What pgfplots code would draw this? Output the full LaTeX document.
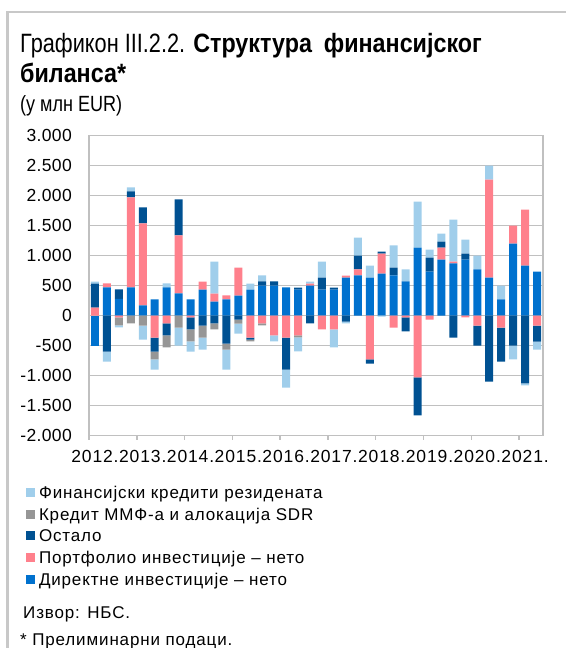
\documentclass[border=0pt]{standalone}
\usepackage{pgfplots}
\pgfplotsset{compat=1.18}
\usepackage{pgfplotstable}
\usepackage{fontspec}
\setmainfont{Liberation Sans}
\newfontfamily\lsleg[LetterSpace=5]{Liberation Sans}
\newfontfamily\lsx[LetterSpace=5]{Liberation Sans}
\newfontfamily\lsy[LetterSpace=2]{Liberation Sans}
\newfontfamily\titlefont[FakeStretch=0.82, BoldFeatures={FakeStretch=0.88}]{Liberation Sans}

\definecolor{cF}{RGB}{160,206,235}
\definecolor{cM}{RGB}{150,150,150}
\definecolor{cO}{RGB}{0,81,146}
\definecolor{cP}{RGB}{255,128,140}
\definecolor{cD}{RGB}{0,113,206}
\definecolor{gridgray}{RGB}{192,192,192}
\definecolor{bordergray}{RGB}{200,200,200}

% positive parts
\pgfplotstableread{
x D P O M F
0 0 133 400 0 33
1 467 67 0 0 0
2 278 0 156 0 0
3 467 1500 100 0 67
4 167 1367 267 0 0
5 267 0 0 0 0
6 467 0 0 0 67
7 367 967 600 0 0
8 267 0 0 0 0
9 433 133 0 0 0
10 233 133 0 0 533
11 267 67 0 0 0
12 333 467 0 0 0
13 433 0 0 0 100
14 500 0 67 0 100
15 500 0 67 0 0
16 467 0 0 0 0
17 433 0 33 0 0
18 500 33 0 0 33
19 433 0 200 0 267
20 433 0 33 0 0
21 633 33 0 0 0
22 667 100 233 0 300
23 633 0 0 0 200
24 700 333 33 0 0
25 667 0 133 0 367
26 567 0 0 0 200
27 1133 0 0 0 767
28 733 0 233 0 133
29 933 200 100 0 133
30 867 33 0 0 700
31 933 0 100 0 233
32 767 0 0 0 233
33 633 1633 0 0 233
34 267 0 0 0 233
35 1200 300 0 0 0
36 833 933 0 0 0
37 733 0 0 0 0
}\pos

% negative parts
\pgfplotstableread{
x D P O M F
0 -500 0 0 0 0
1 0 0 -600 0 -167
2 0 -33 0 -133 -33
3 0 0 0 -133 0
4 0 0 0 -167 -233
5 0 -367 -233 -133 -167
6 0 -133 -200 -200 0
7 0 0 0 -200 -300
8 0 -33 -200 -200 -167
9 0 0 -167 -200 -200
10 0 0 -133 -100 0
11 0 0 -467 -100 -333
12 0 0 -67 -67 -167
13 0 -367 -33 -33 0
14 0 -133 0 -33 0
15 0 -333 0 0 -100
16 0 -367 -533 0 -300
17 0 -333 0 -33 -233
18 0 0 -133 0 0
19 0 -233 0 0 0
20 0 -233 0 0 -300
21 0 0 -100 0 -33
22 0 0 0 0 0
23 0 -733 -67 0 0
24 0 0 0 0 -20
25 0 -200 0 0 0
26 0 -33 -233 0 0
27 0 -1033 -633 0 0
28 0 -67 0 0 0
29 0 0 0 0 0
30 0 0 -367 0 0
31 0 -33 0 0 0
32 0 -167 -333 0 0
33 0 0 -1100 0 0
34 0 -200 -567 0 0
35 0 0 -500 0 -233
36 0 0 -1133 0 -33
37 0 -167 -267 0 -133
}\neg

\pgfplotsset{
  common/.style={
    at={(89pt,-435.5pt)}, anchor=south west,
    scale only axis, width=454pt, height=300pt,
    xmin=-0.5, xmax=37.5, ymin=-2000, ymax=3000,
    ybar stacked, bar width=8pt,
  },
  sqleg/.style={legend image code/.code={\fill[##1] (0pt,-2.5pt) rectangle (9pt,6.5pt);}},
}

\begin{document}
\begin{tikzpicture}
\path[use as bounding box] (0,0) rectangle (565pt,-648pt);
\draw[bordergray, line width=2.5pt] (7.5pt,-650pt) -- (7.5pt,-12pt) -- (567pt,-12pt);

\node[anchor=base west, inner sep=0pt, font=\titlefont\fontsize{26.5}{30}\selectfont] at (20pt,-52.5pt) {Графикон III.2.2. \textbf{Структура\hspace{0.45em}финансијског}};
\node[anchor=base west, inner sep=0pt, font=\titlefont\fontsize{26.5}{30}\selectfont] at (20pt,-82pt) {\textbf{биланса*}};
\node[anchor=base west, inner sep=0pt, font=\titlefont\fontsize{22}{26}\selectfont] at (20pt,-111pt) {(у млн EUR)};

\begin{axis}[common,
  ytick={-2000,-1500,-1000,-500,0,500,1000,1500,2000,2500,3000},
  yticklabels={-2.000,-1.500,-1.000,-500,0,500,1.000,1.500,2.000,2.500,3.000},
  xtick={0,4,8,12,16,20,24,28,32,36},
  xticklabels={2012.,2013.,2014.,2015.,2016.,2017.,2018.,2019.,2020.,2021.},
  minor xtick={-0.5,3.5,7.5,11.5,15.5,19.5,23.5,27.5,31.5,35.5},
  tick align=outside, major tick length=0pt, minor tick length=4pt,
  xtick pos=bottom, ytick pos=left,
  x tick style={gridgray, line width=1.5pt},
  y tick style={draw=none},
  ymajorgrids, grid style={gridgray, line width=1.5pt},
  axis line style={gridgray, line width=1.5pt},
  yticklabel style={font=\lsy\fontsize{17.5}{20}\selectfont, inner sep=0pt, anchor=east, xshift=-17pt},
  xticklabel style={font=\lsx\fontsize{17.5}{20}\selectfont, inner sep=0pt, anchor=north, yshift=-14.5pt},
  legend style={at={(axis description cs:-0.13877,-0.16933)}, anchor=north west,
    draw=none, fill=none, inner sep=0pt, outer sep=0pt, row sep=5.7pt, column sep=4pt,
    font=\lsleg\fontsize{17}{20}\selectfont,
    nodes={inner sep=0pt, text height=12pt, text depth=4pt}},
  legend cell align=left,
  reverse legend,
]
\addplot[fill=cD, draw=none, sqleg] table[x=x,y=D]{\pos};
\addplot[fill=cP, draw=none, sqleg] table[x=x,y=P]{\pos};
\addplot[fill=cO, draw=none, sqleg] table[x=x,y=O]{\pos};
\addplot[fill=cM, draw=none, sqleg] table[x=x,y=M]{\pos};
\addplot[fill=cF, draw=none, sqleg] table[x=x,y=F]{\pos};
\legend{Директне инвестиције – нето, Портфолио инвестиције – нето, Остало, Кредит ММФ-а и алокација SDR, Финансијски кредити резидената}
\end{axis}

\begin{axis}[common, hide axis]
\addplot[fill=cD, draw=none] table[x=x,y=D]{\neg};
\addplot[fill=cP, draw=none] table[x=x,y=P]{\neg};
\addplot[fill=cO, draw=none] table[x=x,y=O]{\neg};
\addplot[fill=cM, draw=none] table[x=x,y=M]{\neg};
\addplot[fill=cF, draw=none] table[x=x,y=F]{\neg};
\end{axis}

\node[anchor=base west, inner sep=0pt, font=\lsleg\fontsize{17}{20}\selectfont] at (23pt,-618.3pt) {Извор: НБС.};
\node[anchor=base west, inner sep=0pt, font=\lsleg\fontsize{17}{20}\selectfont] at (20pt,-645pt) {* Прелиминарни подаци.};
\end{tikzpicture}
\end{document}
